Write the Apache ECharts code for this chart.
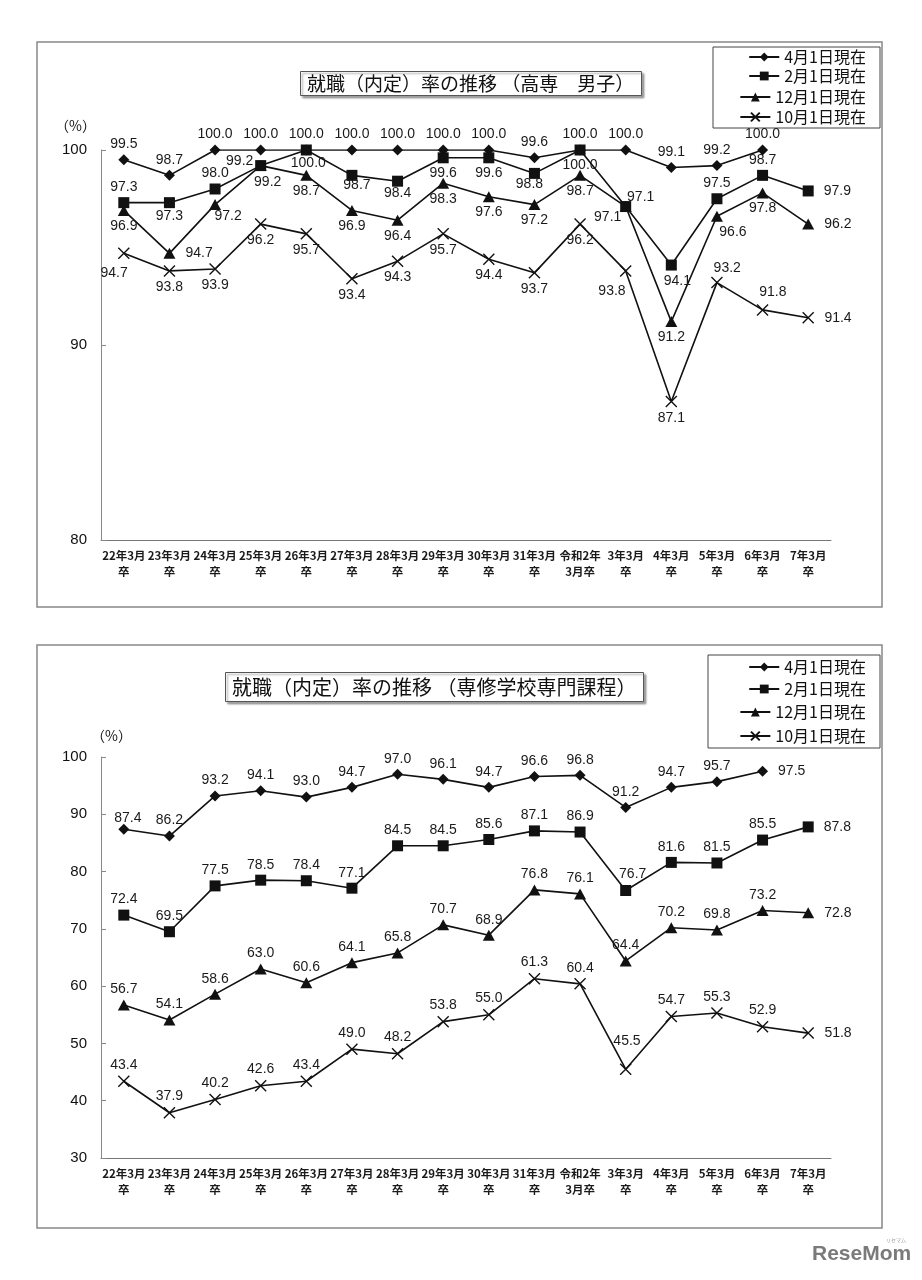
<!DOCTYPE html>
<html>
<head>
<meta charset="utf-8">
<script src="https://cdn.jsdelivr.net/npm/echarts@6/dist/echarts.min.js"></script>
<style>
html,body{margin:0;padding:0;background:#fff;}
#chart{width:922px;height:1280px;}
</style>
</head>
<body>
<div id="chart"></div>
<script>
// ---------- data ----------
const categories = ['22年3月\n卒','23年3月\n卒','24年3月\n卒','25年3月\n卒','26年3月\n卒','27年3月\n卒','28年3月\n卒','29年3月\n卒','30年3月\n卒','31年3月\n卒','令和2年\n3月卒','3年3月\n卒','4年3月\n卒','5年3月\n卒','6年3月\n卒','7年3月\n卒'];
const seriesNames = ['4月1日現在','2月1日現在','12月1日現在','10月1日現在'];

// 高専 男子
const kosenApr = [99.5, 98.7, 100.0, 100.0, 100.0, 100.0, 100.0, 100.0, 100.0, 99.6, 100.0, 100.0, 99.1, 99.2, 100.0, null];
const kosenFeb = [97.3, 97.3, 98.0, 99.2, 100.0, 98.7, 98.4, 99.6, 99.6, 98.8, 100.0, 97.1, 94.1, 97.5, 98.7, 97.9];
const kosenDec = [96.9, 94.7, 97.2, 99.2, 98.7, 96.9, 96.4, 98.3, 97.6, 97.2, 98.7, 97.1, 91.2, 96.6, 97.8, 96.2];
const kosenOct = [94.7, 93.8, 93.9, 96.2, 95.7, 93.4, 94.3, 95.7, 94.4, 93.7, 96.2, 93.8, 87.1, 93.2, 91.8, 91.4];

// 専修学校専門課程
const senApr = [87.4, 86.2, 93.2, 94.1, 93.0, 94.7, 97.0, 96.1, 94.7, 96.6, 96.8, 91.2, 94.7, 95.7, 97.5, null];
const senFeb = [72.4, 69.5, 77.5, 78.5, 78.4, 77.1, 84.5, 84.5, 85.6, 87.1, 86.9, 76.7, 81.6, 81.5, 85.5, 87.8];
const senDec = [56.7, 54.1, 58.6, 63.0, 60.6, 64.1, 65.8, 70.7, 68.9, 76.8, 76.1, 64.4, 70.2, 69.8, 73.2, 72.8];
const senOct = [43.4, 37.9, 40.2, 42.6, 43.4, 49.0, 48.2, 53.8, 55.0, 61.3, 60.4, 45.5, 54.7, 55.3, 52.9, 51.8];

const kosenTicks = [80, 90, 100];
const senTicks = [30, 40, 50, 60, 70, 80, 90, 100];

// ---------- label layout (separate from values) ----------
// pos: default side per point; ctr: explicit label-centre offsets from the point (px)
const layoutKosen = [
  {pos: Array(16).fill('top'), ctr: {}},
  {pos: ['top','bottom','top','left','bottom','bottom','bottom','bottom','bottom','bottom','bottom','top','bottom','top','top','right'],
   ctr: {1:[0,13.5],3:[-21,-4],4:[2,13],5:[5,10],6:[0,12],9:[-5,11],11:[15,-9],12:[6,16]}},
  {pos: ['bottom','right','bottom','bottom','bottom','bottom','bottom','bottom','bottom','bottom','bottom','bottom','bottom','bottom','bottom','right'],
   ctr: {2:[13,12],3:[7,17],11:[-18,11],13:[16,16]}},
  {pos: ['bottom','bottom','bottom','bottom','bottom','bottom','bottom','bottom','bottom','bottom','bottom','bottom','bottom','top','top','right'],
   ctr: {0:[-9,20],11:[-13,21],13:[11,-14],14:[11,-17]}}
];
const layoutSen = [
  {pos: ['top','top','top','top','top','top','top','top','top','top','top','top','top','top','right','top'], ctr: {0:[4,-11]}},
  {pos: ['top','top','top','top','top','top','top','top','top','top','top','top','top','top','top','right'], ctr: {11:[7,-16]}},
  {pos: ['top','top','top','top','top','top','top','top','top','top','top','top','top','top','top','right'], ctr: {}},
  {pos: ['top','top','top','top','top','top','top','top','top','top','top','top','top','top','top','right'], ctr: {11:[2,-27]}}
];

const symbols = ['diamond','rect','triangle','path://M0,0L10,10M10,0L0,10'];
const symbolSizes = [[11,11],[11,11],[12,11],[11,11]];
const LABEL_FONT = '"Liberation Sans", Arial, sans-serif';
const JP_FONT = '"Noto Sans CJK JP", "Noto Sans", sans-serif';

function buildData(values, layout, size) {
  return values.map((v, i) => {
    const c = layout.ctr[i];
    let label;
    if (c) {
      label = {position: [size[0] / 2 + c[0], size[1] / 2 + c[1]], align: 'center', verticalAlign: 'middle'};
    } else {
      const p = layout.pos[i];
      label = {position: p, distance: p === 'right' ? 10 : 3};
    }
    return {value: v, label};
  });
}

function makeSeries(idx, values, layout, gridIdx) {
  const isCross = idx === 3;
  return {
    name: seriesNames[idx],
    type: 'line',
    xAxisIndex: gridIdx, yAxisIndex: gridIdx,
    data: buildData(values, layout, symbolSizes[idx]),
    symbol: symbols[idx],
    symbolSize: symbolSizes[idx],
    showAllSymbol: true,
    connectNulls: false,
    lineStyle: {color: '#111', width: 1.6},
    itemStyle: isCross ? {color: 'transparent', borderColor: '#111', borderWidth: 1.4}
                       : {color: '#111', borderWidth: 0},
    label: {show: true, color: '#1a1a1a', fontSize: 14, fontFamily: LABEL_FONT,
            formatter: p => p.value == null ? '' : Number(p.value).toFixed(1)},
    labelLayout: {hideOverlap: false},
    emphasis: {disabled: true},
    z: 3 + (3 - idx)
  };
}

const chart = echarts.init(document.getElementById('chart'), null, {renderer: 'canvas'});

const xAxisBase = (gridIndex) => ({
  type: 'category', gridIndex, data: categories, boundaryGap: true,
  axisLine: {lineStyle: {color: '#777', width: 1}},
  axisTick: {inside: true, length: 5, lineStyle: {color: '#777'}},
  axisLabel: {color: '#1a1a1a', fontSize: 11.5, fontWeight: 'bold', fontFamily: JP_FONT, lineHeight: 16, margin: 8, interval: 0},
  splitLine: {show: false}
});
const yAxisBase = (gridIndex, min, max) => ({
  type: 'value', gridIndex, min, max, interval: 10,
  axisLine: {show: true, lineStyle: {color: '#888', width: 1}},
  axisTick: {show: true, inside: true, length: 5, lineStyle: {color: '#888'}},
  axisLabel: {color: '#111', fontSize: 15, fontFamily: LABEL_FONT, margin: 14},
  splitLine: {show: false}
});

const legendTops1 = [49, 68, 89, 109];
const legendTops2 = [659, 681, 704, 728];
const legends = [];
seriesNames.forEach((n, i) => {
  [legendTops1[i], legendTops2[i]].forEach(t => legends.push({
    data: [n], right: 56, top: t, padding: 0, itemWidth: 30, itemHeight: 11, itemGap: 5,
    selectedMode: false,
    textStyle: {fontSize: 16, color: '#111', fontFamily: JP_FONT}
  }));
});

const option = {
  animation: false,
  backgroundColor: '#fff',
  title: [
    {text: '就職（内定）率の推移 （高専　男子）', left: 300, top: 71,
     padding: [3, 7, 3, 7], borderColor: '#555', borderWidth: 1, backgroundColor: '#fff',
     shadowColor: 'rgba(0,0,0,0.35)', shadowOffsetX: 2, shadowOffsetY: 2, shadowBlur: 2,
     textStyle: {fontSize: 19, fontWeight: 'normal', color: '#111', fontFamily: JP_FONT}},
    {text: '就職（内定）率の推移 （専修学校専門課程）', left: 225, top: 672,
     padding: [5, 7, 5, 7], borderColor: '#555', borderWidth: 1, backgroundColor: '#fff',
     shadowColor: 'rgba(0,0,0,0.35)', shadowOffsetX: 2, shadowOffsetY: 2, shadowBlur: 2,
     textStyle: {fontSize: 20, fontWeight: 'normal', color: '#111', fontFamily: JP_FONT}}
  ],
  legend: legends,
  grid: [
    {left: 101, right: 91, top: 150, height: 390},
    {left: 101, right: 91, top: 757, height: 401}
  ],
  xAxis: [xAxisBase(0), xAxisBase(1)],
  yAxis: [yAxisBase(0, kosenTicks[0], kosenTicks[kosenTicks.length - 1]),
          yAxisBase(1, senTicks[0], senTicks[senTicks.length - 1])],
  series: [
    makeSeries(0, kosenApr, layoutKosen[0], 0),
    makeSeries(1, kosenFeb, layoutKosen[1], 0),
    makeSeries(2, kosenDec, layoutKosen[2], 0),
    makeSeries(3, kosenOct, layoutKosen[3], 0),
    makeSeries(0, senApr, layoutSen[0], 1),
    makeSeries(1, senFeb, layoutSen[1], 1),
    makeSeries(2, senDec, layoutSen[2], 1),
    makeSeries(3, senOct, layoutSen[3], 1)
  ],
  graphic: [
    {type: 'rect', shape: {x: 37, y: 42, width: 845, height: 565}, style: {fill: 'none', stroke: '#888', lineWidth: 1.5}, z: -1, silent: true},
    {type: 'rect', shape: {x: 37, y: 645, width: 845, height: 583}, style: {fill: 'none', stroke: '#888', lineWidth: 1.5}, z: -1, silent: true},
    {type: 'rect', shape: {x: 713, y: 47, width: 167, height: 81}, style: {fill: 'none', stroke: '#444', lineWidth: 1}, silent: true},
    {type: 'rect', shape: {x: 708, y: 655, width: 172, height: 93}, style: {fill: 'none', stroke: '#444', lineWidth: 1}, silent: true},
    {type: 'text', left: 55, top: 119, style: {text: '（%）', fill: '#111', font: '14px "Noto Sans CJK JP"'}, silent: true},
    {type: 'text', left: 91, top: 729, style: {text: '（%）', fill: '#111', font: '14px "Noto Sans CJK JP"'}, silent: true},
    {type: 'text', left: 812, top: 1244, style: {text: 'ReseMom', fill: '#7a7a7a', font: 'bold 21px "Liberation Sans", Arial, sans-serif'}, silent: true},
    {type: 'text', left: 886, top: 1238, style: {text: 'リセマム', fill: '#999', font: '5px "Noto Sans CJK JP"'}, silent: true}
  ]
};
chart.setOption(option);
</script>
</body>
</html>
